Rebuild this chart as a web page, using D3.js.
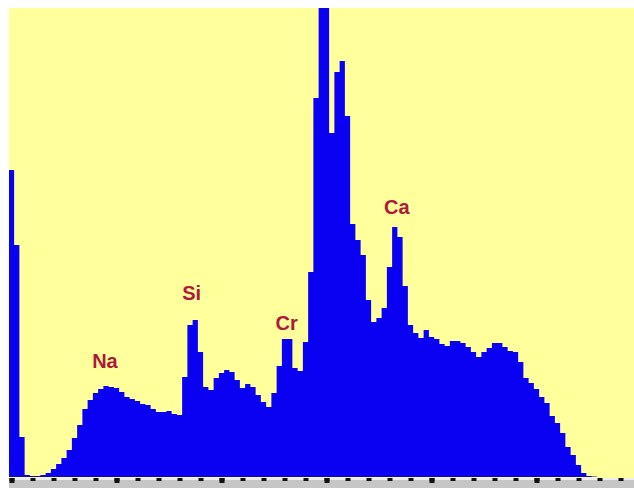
<!DOCTYPE html>
<html>
<head>
<meta charset="utf-8">
<script src="https://cdn.jsdelivr.net/npm/d3@7/dist/d3.min.js"></script>
<style>
  html, body { margin: 0; padding: 0; background: #ffffff; }
  svg { display: block; }
</style>
</head>
<body>
<svg id="chart" width="634" height="488"></svg>
<script>
// EDS spectrum: counts per 0.05 keV channel, channel k centred on k * 0.05 keV
const channelWidth = 0.05;
const counts = [
  3070, 2320, 400, 20, 10, 10, 20, 40, 80, 130,
  190, 270, 390, 520, 680, 770, 840, 880, 910, 900,
  890, 850, 800, 780, 760, 730, 720, 680, 650, 650,
  660, 630, 620, 1000, 1520, 1570, 1250, 900, 870, 990,
  1040, 1070, 1050, 970, 890, 930, 900, 820, 750, 700,
  840, 1110, 1380, 1380, 1090, 1060, 1350, 2050, 3790, 5600,
  5200, 3440, 4050, 4160, 3610, 2530, 2370, 2220, 1770, 1550,
  1590, 1690, 2100, 2500, 2400, 1910, 1520, 1440, 1390, 1470,
  1400, 1380, 1330, 1310, 1360, 1360, 1340, 1300, 1250, 1200,
  1250, 1290, 1340, 1340, 1300, 1260, 1250, 1150, 990, 940,
  880, 800, 740, 610, 540, 440, 300, 220, 120, 40,
  10, 5, 0, 0, 0, 0, 0, 0, 0, 0
];

// Element labels (energy in keV, label anchor height in counts)
const labelNames = ["Na", "Si", "Cr", "Ca"];
const labelEnergy = [0.89, 1.716, 2.62, 3.67];
const labelCount = [1090, 1770, 1470, 2630];

// Axis ticks (keV)
const majorTicks = [0, 1, 2, 3, 4, 5];
const minorTicks = d3.range(0, 30).map(i => +(i * 0.2).toFixed(1));

const svg = d3.select("#chart");
const plot = { left: 9, top: 8, right: 634, bottom: 477 };

const x = d3.scaleLinear().domain([0, 5]).range([11.5, 536.5]);
const y = d3.scaleLinear().domain([0, 4690]).range([plot.bottom, plot.top]);

svg.append("defs").append("clipPath").attr("id", "plotClip")
  .append("rect")
  .attr("x", plot.left).attr("y", plot.top)
  .attr("width", plot.right - plot.left)
  .attr("height", plot.bottom - plot.top + 1);

// plot background
svg.append("rect")
  .attr("x", plot.left).attr("y", plot.top)
  .attr("width", plot.right - plot.left)
  .attr("height", plot.bottom - plot.top + 1)
  .attr("fill", "#ffff9c");

// bottom axis band
svg.append("rect")
  .attr("x", plot.left).attr("y", plot.bottom + 1)
  .attr("width", plot.right - plot.left).attr("height", 488 - plot.bottom - 1)
  .attr("fill", "#c6c6c6");
svg.append("line")
  .attr("x1", plot.left).attr("x2", plot.right)
  .attr("y1", plot.bottom + 2).attr("y2", plot.bottom + 2)
  .attr("stroke", "#ececec").attr("stroke-width", 2);

// step histogram: each channel spans its full width
const steps = counts.map((c, k) => ({ e: k * channelWidth - channelWidth / 2, c }));
steps.push({ e: counts.length * channelWidth - channelWidth / 2, c: counts[counts.length - 1] });

const area = d3.area()
  .curve(d3.curveStepAfter)
  .x(d => x(d.e))
  .y0(y(0))
  .y1(d => y(d.c));

svg.append("g").attr("clip-path", "url(#plotClip)")
  .append("path")
  .datum(steps)
  .attr("d", area)
  .attr("fill", "#0a00f2");

// tick marks along the bottom
const minorAxis = d3.axisBottom(x).tickValues(minorTicks).tickSize(3).tickFormat("");
const majorAxis = d3.axisBottom(x).tickValues(majorTicks).tickSize(5).tickFormat("");

[minorAxis, majorAxis].forEach(ax => {
  const g = svg.append("g")
    .attr("transform", `translate(0,${plot.bottom + 1})`)
    .call(ax);
  g.select(".domain").remove();
  g.selectAll(".tick line")
    .attr("stroke", "#111111")
    .attr("stroke-width", 5);
});

// element labels
svg.append("g")
  .selectAll("text")
  .data(labelNames)
  .join("text")
  .attr("x", (d, i) => x(labelEnergy[i]))
  .attr("y", (d, i) => y(labelCount[i]))
  .attr("text-anchor", "middle")
  .attr("font-family", "'Liberation Sans', Arial, sans-serif")
  .attr("font-weight", "bold")
  .attr("font-size", 20)
  .attr("fill", "#ad1a38")
  .text(d => d);
</script>
</body>
</html>
